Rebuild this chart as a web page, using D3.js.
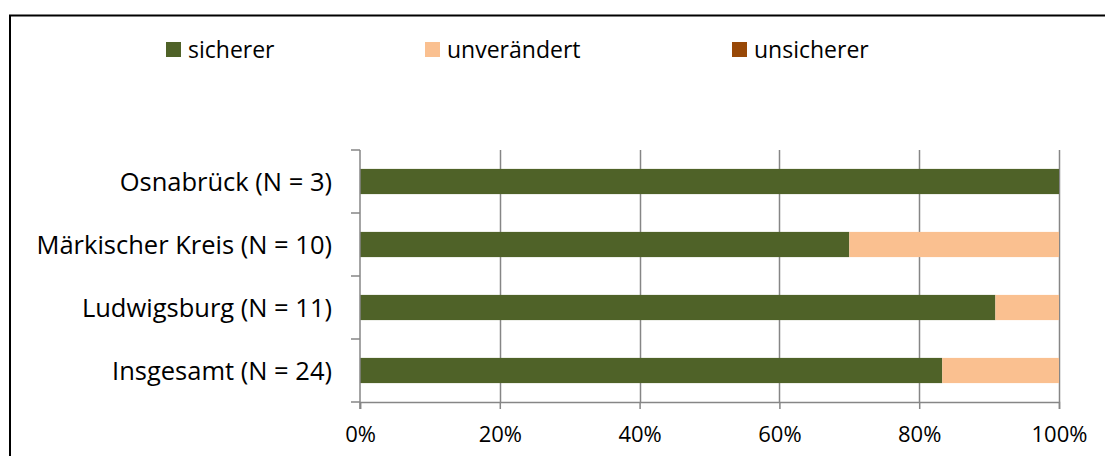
<!DOCTYPE html>
<html>
<head>
<meta charset="utf-8">
<script src="https://cdn.jsdelivr.net/npm/d3@7"></script>
<style>
  html, body { margin: 0; padding: 0; background: #fff; }
  svg { display: block; }
  text { font-family: "Open Sans", sans-serif; fill: #000; }
</style>
</head>
<body>
<svg id="chart" width="1105" height="456"></svg>
<script>
// Regions, top to bottom
const categories = ["Osnabrück (N = 3)", "Märkischer Kreis (N = 10)", "Ludwigsburg (N = 11)", "Insgesamt (N = 24)"];
// Share of answers per region (percent)
const sicherer    = [100, 70, 90.9, 83.3];
const unveraendert = [0, 30, 9.1, 16.7];
const unsicherer  = [0, 0, 0, 0];
const seriesNames = ["sicherer", "unverändert", "unsicherer"];
const seriesColors = ["#4f6228", "#fac090", "#984807"];
const tickValues = [0, 20, 40, 60, 80, 100];

const svg = d3.select("#chart");

// outer chart frame (runs past the right and bottom edges)
svg.append("rect")
  .attr("x", 10).attr("y", 15.5)
  .attr("width", 1110).attr("height", 460)
  .attr("fill", "none").attr("stroke", "#000").attr("stroke-width", 2);

const plot = { left: 360, right: 1059, top: 150, bottom: 402 };

const x = d3.scaleLinear().domain([0, 100]).range([plot.left, plot.right]);
const y = d3.scaleBand().domain(categories).range([plot.top, plot.bottom]).paddingInner(0.6).paddingOuter(0.3);
const yBand = d3.scaleBand().domain(categories).range([plot.top, plot.bottom]);

// vertical gridlines
svg.append("g").selectAll("line").data(tickValues.slice(1)).join("line")
  .attr("x1", d => Math.round(x(d)) + 0.5).attr("x2", d => Math.round(x(d)) + 0.5)
  .attr("y1", plot.top).attr("y2", plot.bottom)
  .attr("stroke", "#868686").attr("stroke-width", 1.5);

// stacked bars
const rows = categories.map((c, i) => ({ cat: c, values: [sicherer[i], unveraendert[i], unsicherer[i]] }));
const stack = d3.stack().keys([0, 1, 2]).value((d, k) => d.values[k]);
const layers = stack(rows);

svg.append("g").selectAll("g").data(layers).join("g")
  .attr("fill", (d, i) => seriesColors[i])
  .selectAll("rect").data(d => d).join("rect")
  .attr("x", d => x(d[0]))
  .attr("width", d => x(d[1]) - x(d[0]))
  .attr("y", d => y(d.data.cat))
  .attr("height", y.bandwidth());

// x axis
const xAxis = svg.append("g")
  .attr("transform", `translate(0,${plot.bottom})`)
  .call(d3.axisBottom(x).tickValues(tickValues).tickFormat(d => d + "%").tickSize(7).tickPadding(17));
xAxis.select(".domain").attr("stroke", "#868686").attr("stroke-width", 1.5);
xAxis.selectAll(".tick line").attr("stroke", "#868686").attr("stroke-width", 1.5);
xAxis.selectAll(".tick text").attr("font-size", 22).style("font-family", "'Open Sans', sans-serif").attr("fill", "#000");

// y axis: ticks at category boundaries
const yAxisG = svg.append("g");
yAxisG.append("line")
  .attr("x1", plot.left).attr("x2", plot.left)
  .attr("y1", plot.top).attr("y2", plot.bottom + 7)
  .attr("stroke", "#868686").attr("stroke-width", 1.5);
const boundaries = categories.map(c => yBand(c)).concat([plot.bottom]);
yAxisG.selectAll("line.tk").data(boundaries).join("line").attr("class", "tk")
  .attr("x1", plot.left - 9).attr("x2", plot.left)
  .attr("y1", d => d).attr("y2", d => d)
  .attr("stroke", "#868686").attr("stroke-width", 1.5);
yAxisG.selectAll("text").data(categories).join("text")
  .attr("x", 332)
  .attr("y", d => yBand(d) + yBand.bandwidth() / 2)
  .attr("dy", "0.36em")
  .attr("text-anchor", "end")
  .attr("font-size", 25.5)
  .text(d => d);

// legend
const legendX = [166, 425, 732];
const legend = svg.append("g").selectAll("g").data(seriesNames).join("g")
  .attr("transform", (d, i) => `translate(${legendX[i]},42)`);
legend.append("rect").attr("width", 15).attr("height", 15).attr("fill", (d, i) => seriesColors[i]);
legend.append("text").attr("x", 22).attr("y", 7.5).attr("dy", "0.36em").attr("font-size", 23).text(d => d);
</script>
</body>
</html>
